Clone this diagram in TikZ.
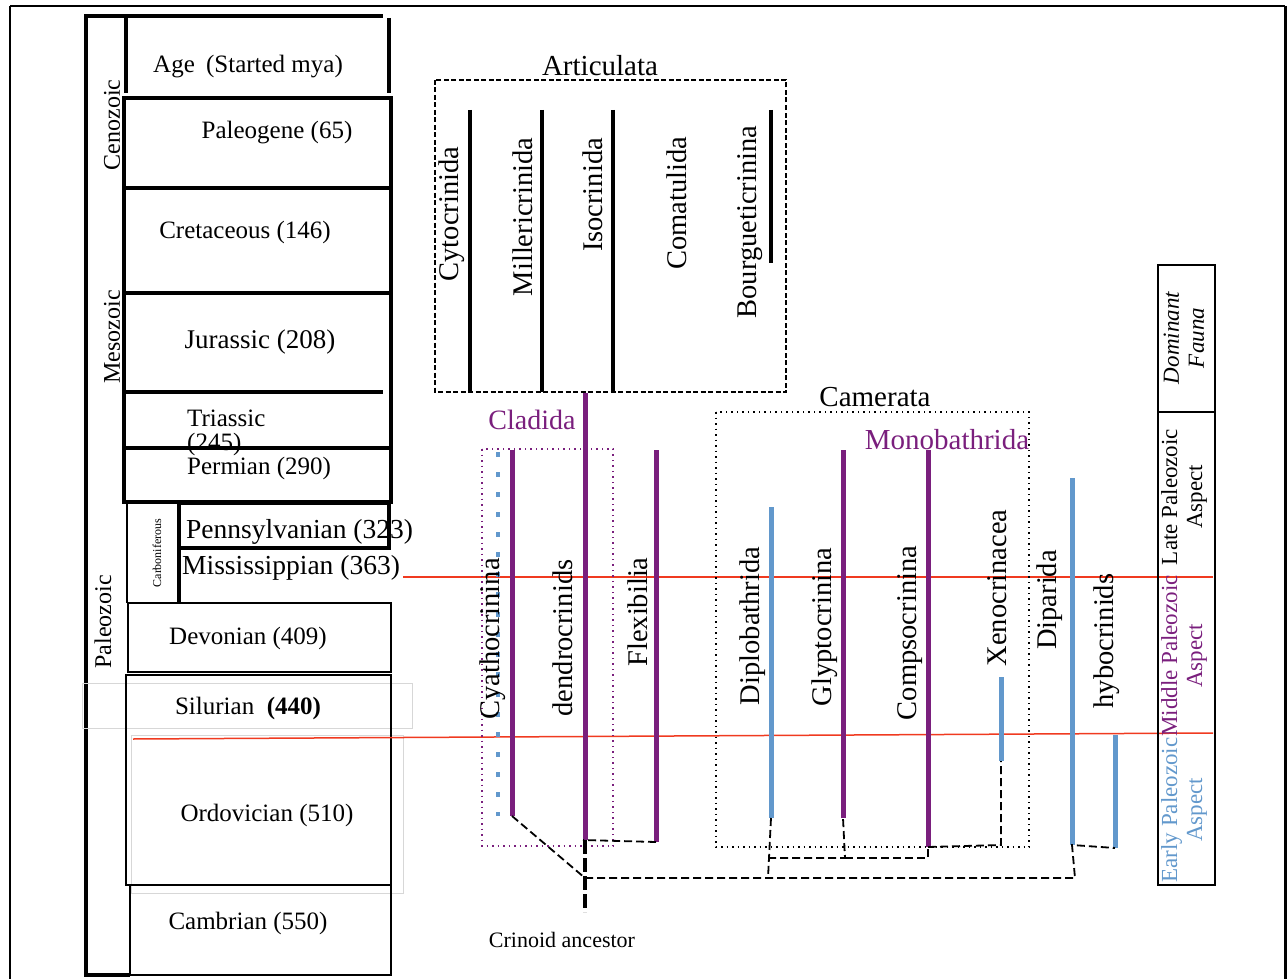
\documentclass[tikz,border=0pt]{standalone}
\usepackage{fontspec}
\setmainfont{Liberation Serif}
\newcommand\myfs[1]{\fontsize{#1}{#1}\selectfont}
\definecolor{cpurple}{RGB}{122,31,125}
\definecolor{cblue}{RGB}{98,152,204}
\definecolor{cred}{RGB}{240,58,32}
\definecolor{cgray}{RGB}{215,215,215}
\begin{document}
\begin{tikzpicture}[x=1pt,y=-1pt,
  thk/.style={line width=4pt},
  thn/.style={line width=1.5pt},
  per/.style={font=\myfs{25}, inner sep=0pt},
  era/.style={font=\myfs{24}, inner sep=0pt, rotate=90},
  vlab/.style={font=\myfs{28.5}, inner sep=0pt, rotate=90},
  ttl/.style={font=\myfs{29}, inner sep=0pt},
  aspect/.style={font=\fontsize{23}{25}\selectfont, inner sep=0pt, rotate=90, align=center},
  purpline/.style={line width=5pt, cpurple},
  blueline/.style={line width=5pt, cblue},
  artline/.style={line width=4pt, black},
  conn/.style={line width=1.8pt, dash pattern=on 8pt off 4pt},
  redline/.style={line width=1.5pt, cred}]
\useasboundingbox (0,0) rectangle (1288,979);
% outer frame
\draw[line width=2pt] (10,6) -- (1285,6);
\draw[line width=1.5pt] (10,6) -- (10,979);
\draw[line width=3pt] (1285,6) -- (1285,979);

% ---- geologic table ----
\draw[thk] (86,16) -- (86,975) -- (130,975);
\draw[thk] (84,16) -- (383,16);
\draw[thk] (126,18) -- (126,93);
\draw[thk] (389,18) -- (389,93);
\draw[thk] (124,98) rectangle (391,502);
\draw[thk] (124,188) -- (391,188);
\draw[thk] (124,293) -- (391,293);
\draw[thk] (124,392) -- (383,392);
\draw[thk] (124,448) -- (391,448);
\draw[thk] (125,502) -- (179,502) -- (179,603);
\draw[thn] (127,502) -- (127,603);
\draw[thk] (179,503) rectangle (389,548);
\draw[cgray, line width=0.8pt] (82,683) rectangle (412,728);
\draw[cgray, line width=0.8pt] (131,735) rectangle (403,893);
\draw[thn] (128,603) rectangle (391,672);
\draw[thn] (126,675) rectangle (391,885);
\draw[thn] (130,885) rectangle (391,975);

\node[era] (ceno) at (112,125) {Cenozoic};
\node[era] (meso) at (112,337) {Mesozoic};
\node[era] (paleo) at (103,622) {Paleozoic};
\node[per, anchor=west] (age) at (153,67) {Age\hspace{0.45em}(Started mya)};
\node[per] (paleog) at (277,133) {Paleogene (65)};
\node[per] (creta) at (245,232) {Cretaceous (146)};
\node[per, font=\myfs{27}] (jura) at (260,342) {Jurassic (208)};
\node[per, anchor=west] (trias) at (187,418) {Triassic};
\node[per, anchor=west] (triasn) at (187,444) {(245)};
\node[per, anchor=west] (perm) at (187,468) {Permian (290)};
\node[per, font=\myfs{27.5}, anchor=west] (penn) at (186,532) {Pennsylvanian (323)};
\node[per, font=\myfs{27.5}, anchor=west] (miss) at (182,568) {Mississippian (363)};
\node[inner sep=0pt, rotate=90, font=\myfs{12}] (carb) at (157,553) {Carboniferous};
\node[per] (devo) at (248,638) {Devonian (409)};
\node[per] (silu) at (248,708) {Silurian\hspace{0.5em}\textbf{(440)}};
\node[per] (ordo) at (267,815) {Ordovician (510)};
\node[per] (camb) at (248,923) {Cambrian (550)};

% red lines
\draw[redline] (403,577) -- (1213,577);
\draw[redline] (133,739) -- (1213,733);

% ---- Articulata ----
\draw[line width=1.2pt, dash pattern=on 5pt off 2.5pt] (435,80) rectangle (786,392);
\node[ttl] (artic) at (600,66) {Articulata};
\draw[artline] (470,110) -- (470,392);
\draw[artline] (542,110) -- (542,392);
\draw[artline] (613,110) -- (613,392);
\draw[artline] (771,110) -- (771,263);
\node[vlab] (cyto) at (452,214) {Cytocrinida};
\node[vlab] (mill) at (523,217) {Millericrinida};
\node[vlab] (isoc) at (593,195) {Isocrinida};
\node[vlab] (coma) at (677,203) {Comatulida};
\node[vlab] (bour) at (750,222) {Bourgueticrinina};

% ---- Cladida ----
\draw[cpurple, line width=1.5pt, dash pattern=on 1.5pt off 4pt] (482,449) rectangle (613,846);
\node[ttl, text=cpurple, font=\myfs{28}] (clad) at (532,420) {Cladida};
\coordinate (trunkT) at (585,393);
\coordinate (trunkB) at (585,840);
\coordinate (anc) at (585,912);
\coordinate (cyaT) at (512,450);
\coordinate (cyaB) at (512,816);
\coordinate (flexT) at (656,450);
\coordinate (flexB) at (656,842);
\draw[cblue, line width=4.5pt, dash pattern=on 4.5pt off 15.5pt] (498,452) -- (498,816);
\draw[purpline] (cyaT) -- (cyaB);
\draw[purpline] (trunkT) -- (trunkB);
\draw[purpline] (flexT) -- (flexB);
\node[vlab] (cyat) at (493,639) {Cyathocrinina};
\node[vlab] (dend) at (563,638) {dendrocrinids};
\node[vlab] (flex) at (638,612) {Flexibilia};

% ---- Camerata ----
\draw[line width=1.5pt, dash pattern=on 1.5pt off 4pt] (716,412) rectangle (1029,847);
\node[ttl] (came) at (875,397) {Camerata};
\node[ttl, text=cpurple] (mono) at (947,440) {Monobathrida};
\coordinate (dipT) at (771,507);
\coordinate (dipB) at (771,818);
\coordinate (glyT) at (843,450);
\coordinate (glyB) at (843,818);
\coordinate (comT) at (928,450);
\coordinate (comB) at (928,847);
\coordinate (xenT) at (1001,677);
\coordinate (xenB) at (1001,761);
\coordinate (dpaT) at (1072,478);
\coordinate (dpaB) at (1072,845);
\coordinate (hybT) at (1115,735);
\coordinate (hybB) at (1115,848);
\draw[blueline] (dipT) -- (dipB);
\draw[purpline] (glyT) -- (glyB);
\draw[purpline] (comT) -- (comB);
\draw[blueline] (xenT) -- (xenB);
\draw[blueline] (dpaT) -- (dpaB);
\draw[blueline] (hybT) -- (hybB);
\node[vlab] (dipl) at (753,626) {Diplobathrida};
\node[vlab] (glyp) at (825,627) {Glyptocrinina};
\node[vlab] (comp) at (910,633) {Compsocrinina};
\node[vlab] (xeno) at (997,588) {Xenocrinacea};
\node[vlab] (dipa) at (1050,600) {Diparida};
\node[vlab] (hybo) at (1107,641) {hybocrinids};

% ---- connectors ----
\coordinate (root) at (585,878);
\coordinate (j1) at (768,878);
\coordinate (j2) at (1075,878);
\coordinate (j3) at (768,858);
\coordinate (j4) at (845,858);
\coordinate (j5) at (928,858);
\coordinate (j6) at (1001,845);
\draw[conn] (cyaB) -- (root);
\draw[conn] (flexB) -- (583,840);
\draw[line width=4pt, dash pattern=on 14pt off 4pt] (trunkB) -- (anc);
\draw[conn] (root) -- (j1) -- (j2) -- (dpaB) -- (hybB);
\draw[conn] (dipB) -- (j1);
\draw[conn] (j3) -- (j4) -- (glyB);
\draw[conn] (j4) -- (j5) -- (comB);
\draw[conn] (comB) -- (j6) -- (xenB);
\node[font=\myfs{22}, inner sep=0pt] (ancl) at (562,940) {Crinoid ancestor};

% ---- right column ----
\draw[line width=1.8pt] (1158,265) rectangle (1215,885);
\draw[line width=1.8pt] (1158,412) -- (1215,412);
\node[aspect, font=\fontsize{23}{25}\selectfont\itshape] (domf) at (1184,338) {Dominant\\Fauna};
\node[aspect] (late) at (1184,497) {Late Paleozoic\\Aspect};
\node[aspect, text=cpurple] (midd) at (1184,656) {Middle Paleozoic\\Aspect};
\node[aspect, text=cblue] (earl) at (1184,810) {Early Paleozoic\\Aspect};
\end{tikzpicture}
\end{document}
